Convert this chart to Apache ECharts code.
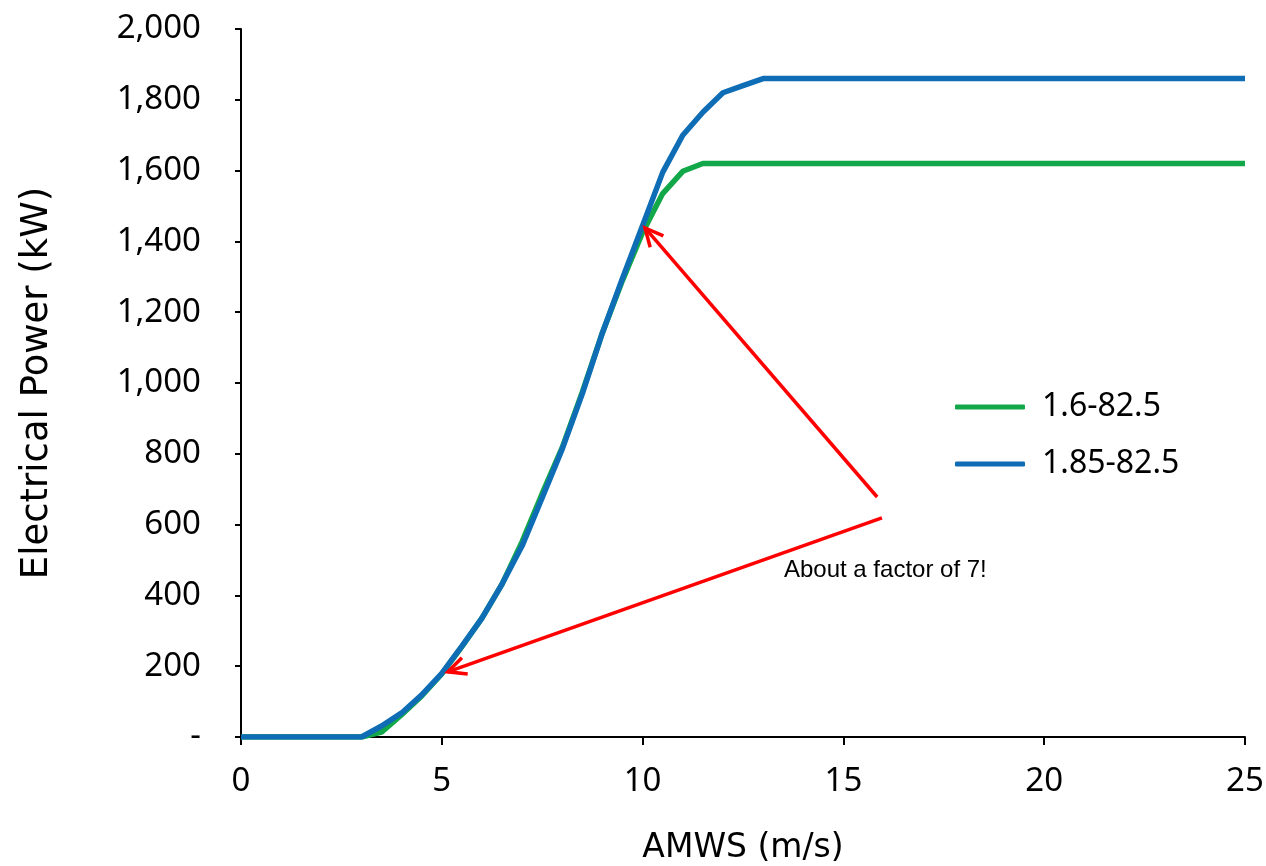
<!DOCTYPE html>
<html>
<head>
<meta charset="utf-8">
<script src="https://cdn.jsdelivr.net/npm/echarts@6/dist/echarts.min.js"></script>
<style>
html,body{margin:0;padding:0;background:#fff;}
#chart{width:1266px;height:866px;}
</style>
</head>
<body>
<div id="chart"></div>
<script>
// Wind speed (m/s)
const windSpeed = [0,0.5,1,1.5,2,2.5,3,3.5,4,4.5,5,5.5,6,6.5,7,7.5,8,8.5,9,9.5,10,10.5,11,11.5,12,12.5,13,13.5,14,14.5,15,15.5,16,16.5,17,17.5,18,18.5,19,19.5,20,20.5,21,21.5,22,22.5,23,23.5,24,24.5,25];
// 1.6-82.5 power (kW)
const power16 = [0,0,0,0,0,0,0,14,63,116,178,255,336,432,552,688,818,975,1142,1290,1425,1535,1598,1620,1620,1620,1620,1620,1620,1620,1620,1620,1620,1620,1620,1620,1620,1620,1620,1620,1620,1620,1620,1620,1620,1620,1620,1620,1620,1620,1620];
// 1.85-82.5 power (kW)
const power185 = [0,0,0,0,0,0,0,31,68,119,180,257,336,432,540,676,814,970,1142,1296,1445,1595,1700,1765,1820,1840,1860,1860,1860,1860,1860,1860,1860,1860,1860,1860,1860,1860,1860,1860,1860,1860,1860,1860,1860,1860,1860,1860,1860,1860,1860];
const seriesNames = ['1.6-82.5', '1.85-82.5'];
// Annotation arrows: [fromSpeed, fromPower, toSpeed, toPower]
const arrows = [[15.84, 678, 10.06, 1438], [15.96, 619, 5.15, 184]];
const noteText = 'About a factor of 7!';
const notePos = [13.52, 472];

const chart = echarts.init(document.getElementById('chart'));
const font = 'Noto Sans';
const option = {
  animation: false,
  grid: {left: 241, right: 21, top: 29, bottom: 129, containLabel: false, outerBoundsMode: 'none'},
  legend: {
    orient: 'vertical',
    left: 950, top: 386,
    itemWidth: 70, itemHeight: 5, itemGap: 25,
    icon: 'roundRect',
    data: seriesNames,
    textStyle: {fontFamily: font, fontSize: 32, color: '#000', padding: [0,0,0,12]}
  },
  xAxis: {
    type: 'value', min: 0, max: 25, interval: 5,
    name: 'AMWS (m/s)', nameLocation: 'middle', nameGap: 95,
    nameTextStyle: {fontFamily: 'DejaVu Sans', fontSize: 33, color: '#000'},
    axisLine: {lineStyle: {color: '#000', width: 2}},
    axisTick: {show: true, length: 8, lineStyle: {color: '#000', width: 2}},
    axisLabel: {fontFamily: font, fontSize: 33, color: '#000', margin: 28},
    splitLine: {show: false}
  },
  yAxis: {
    type: 'value', min: 0, max: 2000, interval: 200,
    name: 'Electrical Power (kW)', nameLocation: 'middle', nameGap: 185, nameRotate: 90,
    nameTextStyle: {fontFamily: 'DejaVu Sans', fontSize: 37, color: '#000'},
    axisLine: {show: true, lineStyle: {color: '#000', width: 2}},
    axisTick: {show: true, length: 6, lineStyle: {color: '#000', width: 2}},
    axisLabel: {fontFamily: font, fontSize: 33, color: '#000', margin: 40,
      formatter: v => v === 0 ? '-' : v.toLocaleString('en-US')},
    splitLine: {show: false}
  },
  series: [
    {name: seriesNames[0], type: 'line', data: windSpeed.map((x,i)=>[x, power16[i]]),
     showSymbol: false, color: '#12a84a', lineStyle: {width: 5.5, color: '#12a84a'}, z: 2},
    {name: seriesNames[1], type: 'line', data: windSpeed.map((x,i)=>[x, power185[i]]),
     showSymbol: false, color: '#0f6db5', lineStyle: {width: 5.5, color: '#0f6db5'}, z: 3},
    {type: 'custom', silent: true, z: 5,
     data: arrows,
     renderItem: function(params, api) {
       const p1 = api.coord([api.value(0), api.value(1)]);
       const p2 = api.coord([api.value(2), api.value(3)]);
       const ang = Math.atan2(p1[1]-p2[1], p1[0]-p2[0]);
       const L = 20, a = 0.45;
       const h1 = [p2[0] + L*Math.cos(ang+a), p2[1] + L*Math.sin(ang+a)];
       const h2 = [p2[0] + L*Math.cos(ang-a), p2[1] + L*Math.sin(ang-a)];
       const st = {stroke: '#ff0000', lineWidth: 3.5, fill: null};
       return {type: 'group', children: [
         {type: 'line', shape: {x1: p1[0], y1: p1[1], x2: p2[0], y2: p2[1]}, style: st},
         {type: 'polyline', shape: {points: [h1, p2, h2]}, style: st}
       ]};
     }
    },
    {type: 'custom', silent: true, z: 5,
     data: [notePos],
     renderItem: function(params, api) {
       const p = api.coord([api.value(0), api.value(1)]);
       return {type: 'text', x: p[0], y: p[1],
         style: {text: noteText, fontFamily: 'Liberation Sans', fontSize: 24, fill: '#000',
                 textAlign: 'left', textVerticalAlign: 'middle'}};
     }
    }
  ]
};
chart.setOption(option);
</script>
</body>
</html>
